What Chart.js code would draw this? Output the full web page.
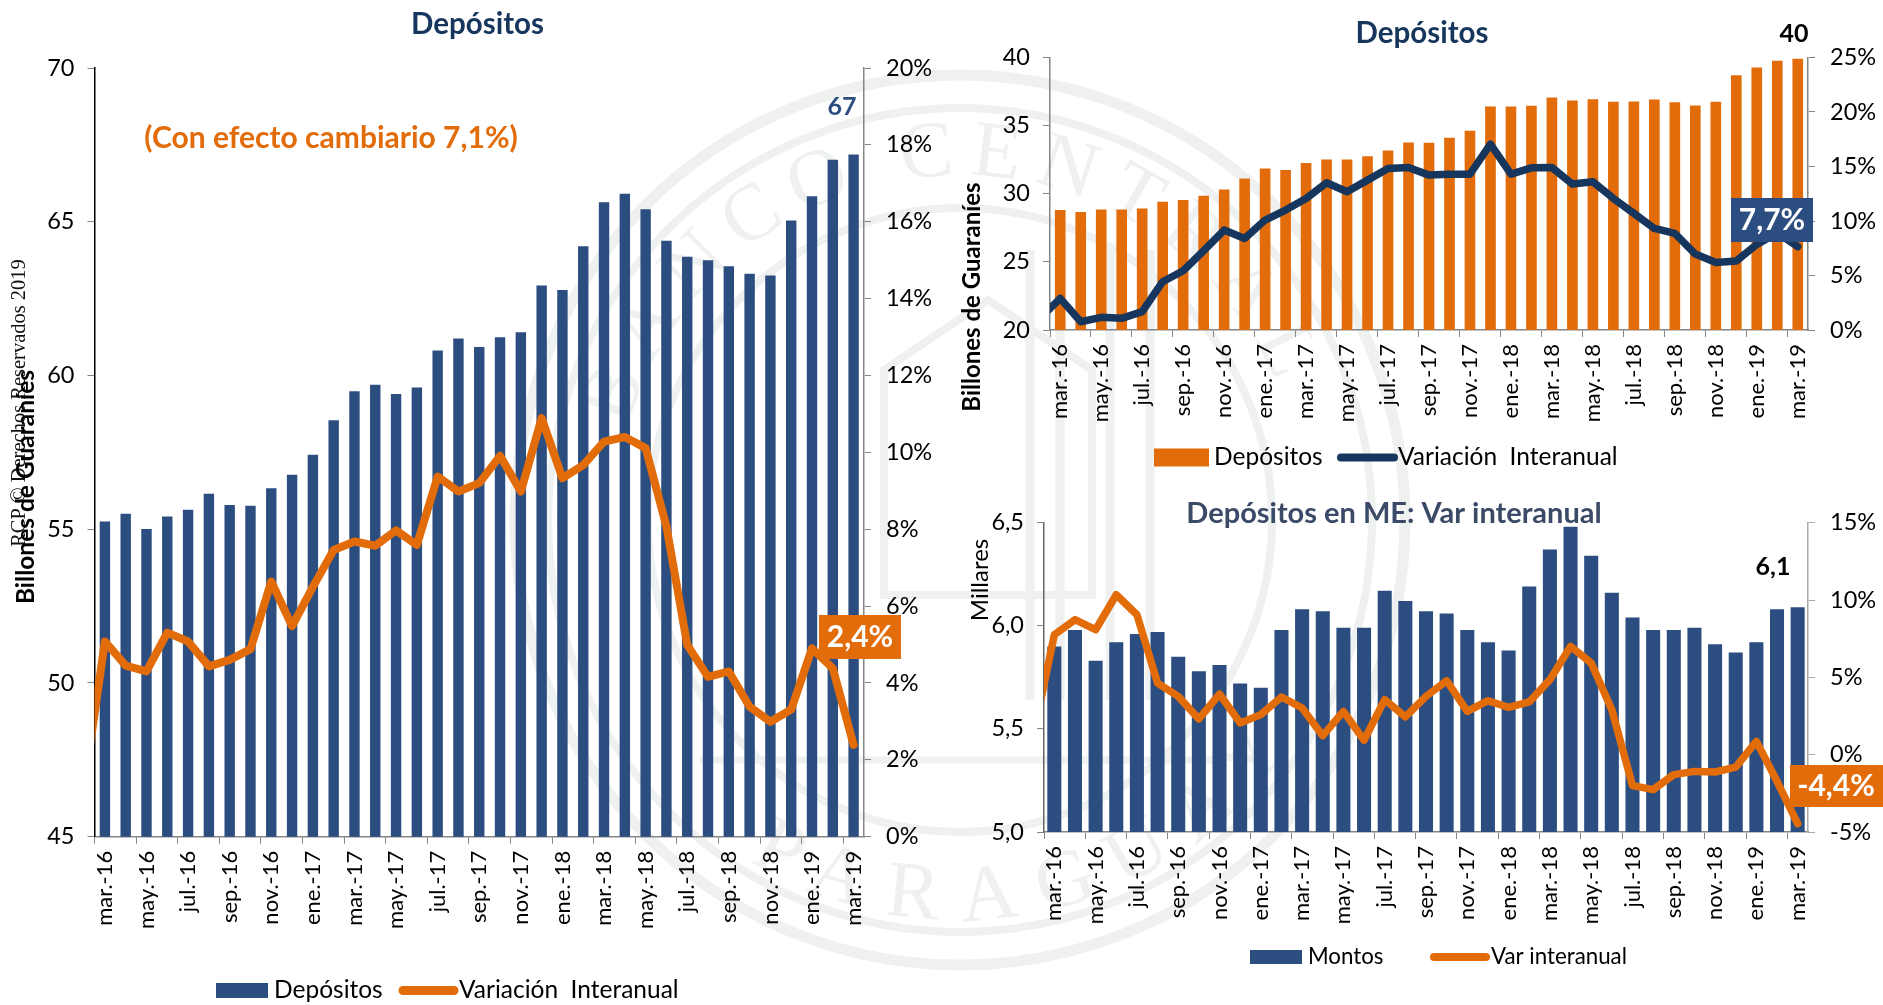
<!DOCTYPE html>
<html lang="es">
<head>
<meta charset="utf-8">
<title>Depósitos</title>
<script src="https://cdn.jsdelivr.net/npm/chart.js@4/dist/chart.umd.min.js"></script>
<style>
  html, body { margin: 0; padding: 0; background: #fff; width: 1883px; height: 1005px; overflow: hidden; }
  canvas, svg { position: absolute; }
  #seal { left: 0; top: 0; }
  #depositosTotal { left: 0; top: 0; }
  #depositosMN { left: 961px; top: 0; }
  #depositosME { left: 905px; top: 480px; }
</style>
</head>
<body>

<!-- Sello de fondo -->
<svg id="seal" width="1883" height="1005" viewBox="0 0 1883 1005" fill="none" stroke="#eef1ef">
  <defs>
    <path id="arcTop" d="M 615 520 A 345 345 0 0 1 1305 520"/>
    <path id="arcBottom" d="M 560 520 A 400 400 0 0 0 1360 520"/>
  </defs>
  <circle cx="960" cy="520" r="445" stroke-width="11"/>
  <circle cx="960" cy="520" r="412" stroke-width="8"/>
  <circle cx="960" cy="520" r="312" stroke-width="8"/>
  <path d="M 884 595 V 370 L 988 300 L 1092 370 V 595 Z" stroke-width="8"/>
  <path d="M 1030 700 V 250 M 1060 700 V 250 M 1110 700 V 250 M 1150 700 V 250" stroke-width="9"/>
  <path d="M 700 760 L 1220 760" stroke-width="7"/>
  <g fill="#eef1ef" stroke="none" font-family="'Liberation Serif', serif" font-size="80">
    <text letter-spacing="15"><textPath href="#arcTop" startOffset="93">BANCO CENTRAL</textPath></text>
    <text letter-spacing="25"><textPath href="#arcBottom" startOffset="407">PARAGUAY</textPath></text>
  </g>
</svg>

<canvas id="depositosTotal" width="955" height="1005"></canvas>
<canvas id="depositosMN" width="922" height="480"></canvas>
<canvas id="depositosME" width="978" height="525"></canvas>

<script>
// Etiquetas: feb.-16 queda fuera del eje, solo da el tramo inicial de la línea
const months = [
  'feb.-16',
  'mar.-16', 'abr.-16', 'may.-16', 'jun.-16', 'jul.-16', 'ago.-16', 'sep.-16', 'oct.-16', 'nov.-16', 'dic.-16',
  'ene.-17', 'feb.-17', 'mar.-17', 'abr.-17', 'may.-17', 'jun.-17', 'jul.-17', 'ago.-17', 'sep.-17', 'oct.-17', 'nov.-17', 'dic.-17',
  'ene.-18', 'feb.-18', 'mar.-18', 'abr.-18', 'may.-18', 'jun.-18', 'jul.-18', 'ago.-18', 'sep.-18', 'oct.-18', 'nov.-18', 'dic.-18',
  'ene.-19', 'feb.-19', 'mar.-19'
];

// Panel izquierdo
const totalMontos = [null,
  55.25, 55.50, 55.01, 55.41, 55.63, 56.15, 55.79, 55.76, 56.33, 56.77,
  57.42, 58.54, 59.49, 59.70, 59.40, 59.61, 60.81, 61.20, 60.93, 61.24, 61.41, 62.93,
  62.78, 64.20, 65.63, 65.91, 65.41, 64.38, 63.86, 63.75, 63.55, 63.31, 63.25, 65.04,
  65.83, 67.02, 67.19
];
const totalVariacion = [1.3,
  5.08, 4.45, 4.30, 5.31, 5.08, 4.43, 4.60, 4.88, 6.64, 5.48,
  6.50, 7.46, 7.68, 7.57, 7.97, 7.59, 9.37, 8.98, 9.20, 9.91, 8.98, 10.89,
  9.33, 9.67, 10.28, 10.40, 10.11, 8.07, 4.99, 4.16, 4.30, 3.38, 2.99, 3.31,
  4.90, 4.38, 2.39
];

// Panel superior derecho
const mnMontos = [null,
  28.80, 28.66, 28.85, 28.85, 28.92, 29.41, 29.54, 29.85, 30.32, 31.12,
  31.86, 31.74, 32.25, 32.52, 32.52, 32.76, 33.18, 33.77, 33.74, 34.11, 34.62, 36.41,
  36.41, 36.46, 37.07, 36.85, 36.94, 36.75, 36.77, 36.92, 36.72, 36.48, 36.75, 38.70,
  39.27, 39.76, 39.90
];
const mnVariacion = [1.04,
  2.90, 0.76, 1.16, 1.07, 1.68, 4.43, 5.44, 7.27, 9.17, 8.40,
  10.09, 11.00, 12.07, 13.51, 12.68, 13.75, 14.82, 14.91, 14.21, 14.30, 14.30, 17.05,
  14.30, 14.88, 14.91, 13.39, 13.60, 12.07, 10.70, 9.32, 8.86, 6.97, 6.20, 6.33,
  7.85, 8.90, 7.64
];

// Panel inferior derecho
const meMontos = [null,
  5.90, 5.98, 5.83, 5.92, 5.96, 5.97, 5.85, 5.78, 5.81, 5.72,
  5.70, 5.98, 6.08, 6.07, 5.99, 5.99, 6.17, 6.12, 6.07, 6.06, 5.98, 5.92,
  5.88, 6.19, 6.37, 6.48, 6.34, 6.16, 6.04, 5.98, 5.98, 5.99, 5.91, 5.87,
  5.92, 6.08, 6.09
];
const meVariacion = [1.29,
  7.76, 8.73, 8.08, 10.34, 9.05, 4.63, 3.77, 2.31, 3.92, 2.05,
  2.59, 3.73, 3.02, 1.23, 2.80, 0.93, 3.56, 2.44, 3.77, 4.78, 2.80, 3.49,
  3.06, 3.41, 4.85, 7.00, 5.93, 2.91, -2.00, -2.26, -1.29, -1.08, -1.12, -0.80,
  0.86, -1.72, -4.46
];

const BLUE = '#2c4d80';
const ORANGE = '#e36c0a';
const NAVY = '#17365d';
const AXIS_GREY = '#858585';
const FONT = 'Lato, sans-serif';

// ─────────────────────────────────────────────
// Textos sueltos y leyendas (coordenadas de página)
// ─────────────────────────────────────────────
const overlays = {
  depositosTotal: {
    left: 0, top: 0, legendFont: 24.5,
    legend: [
      { dataset: 0, x0: 216, x1: 268, y: 990.5, h: 15, textX: 274 },
      { dataset: 1, x0: 403, x1: 454, y: 990.5, w: 9, textX: 459 },
    ],
    notes: [
      { text: '(Con efecto cambiario 7,1%)', x: 331, y: 138, font: `bold 30px ${FONT}`, color: ORANGE },
      { text: '67', x: 842, y: 107, font: `bold 25px ${FONT}`, color: BLUE },
      { text: '2,4%', x: 860, y: 637, font: `bold 30px ${FONT}`, color: '#fff', box: [819, 615, 82, 44], boxColor: ORANGE },
      { text: 'RCP © Derechos Reservados 2019', x: 20, y: 403, font: `20.5px 'Liberation Serif', serif`, color: '#111', rotate: true },
      { text: 'Billones de Guaraníes', x: 26, y: 487, font: `bold 24.5px ${FONT}`, color: '#000', rotate: true },
    ],
  },
  depositosMN: {
    left: 961, top: 0, legendFont: 24.5,
    legend: [
      { dataset: 0, x0: 1154, x1: 1209, y: 457.5, h: 18, textX: 1214 },
      { dataset: 1, x0: 1341, x1: 1394, y: 457.5, w: 8, textX: 1398 },
    ],
    notes: [
      { text: '40', x: 1794, y: 34, font: `bold 25px ${FONT}`, color: '#000' },
      { text: '7,7%', x: 1772, y: 220, font: `bold 30px ${FONT}`, color: '#fff', box: [1731, 198, 82, 44], boxColor: BLUE },
      { text: 'Billones de Guaraníes', x: 972, y: 297, font: `bold 24px ${FONT}`, color: '#000', rotate: true },
    ],
  },
  depositosME: {
    left: 905, top: 480, legendFont: 22.3,
    legend: [
      { dataset: 0, x0: 1250, x1: 1302, y: 957, h: 14, textX: 1308 },
      { dataset: 1, x0: 1434, x1: 1486, y: 957, w: 8, textX: 1491 },
    ],
    notes: [
      { text: '6,1', x: 1773, y: 567, font: `bold 25px ${FONT}`, color: '#000' },
      { text: '-4,4%', x: 1836, y: 786, font: `bold 30px ${FONT}`, color: '#fff', box: [1790, 765, 93, 42], boxColor: ORANGE },
      { text: 'Millares', x: 980, y: 580, font: `24px ${FONT}`, color: '#000', rotate: true },
    ],
  },
};

const overlayPlugin = {
  id: 'overlay',
  afterDraw(chart) {
    const cfg = overlays[chart.canvas.id];
    const ctx = chart.ctx;
    ctx.save();
    ctx.translate(-cfg.left, -cfg.top);
    ctx.textBaseline = 'middle';

    cfg.legend.forEach(item => {
      const ds = chart.data.datasets[item.dataset];
      if (ds.type === 'bar') {
        ctx.fillStyle = ds.backgroundColor;
        ctx.fillRect(item.x0, item.y - item.h / 2, item.x1 - item.x0, item.h);
      } else {
        ctx.strokeStyle = ds.borderColor;
        ctx.lineWidth = item.w;
        ctx.lineCap = 'round';
        ctx.beginPath();
        ctx.moveTo(item.x0, item.y);
        ctx.lineTo(item.x1, item.y);
        ctx.stroke();
      }
      ctx.fillStyle = '#000';
      ctx.font = `${cfg.legendFont}px ${FONT}`;
      ctx.textAlign = 'left';
      ctx.fillText(ds.label, item.textX, item.y);
    });

    cfg.notes.forEach(note => {
      if (note.box) {
        ctx.fillStyle = note.boxColor;
        ctx.fillRect(note.box[0], note.box[1], note.box[2], note.box[3]);
      }
      ctx.save();
      ctx.translate(note.x, note.y);
      if (note.rotate) ctx.rotate(-Math.PI / 2);
      ctx.font = note.font;
      ctx.fillStyle = note.color;
      ctx.textAlign = 'center';
      ctx.fillText(note.text, 0, 0);
      ctx.restore();
    });
    ctx.restore();
  }
};

// ─────────────────────────────────────────────
// Construcción de cada panel
// ─────────────────────────────────────────────
function fixedSize(prop, size) {
  return scale => { scale[prop] = size; };
}

function buildChart(id, p) {
  return new Chart(document.getElementById(id), {
    type: 'bar',
    plugins: [overlayPlugin],
    data: {
      labels: months,
      datasets: [
        {
          type: 'bar',
          label: p.barLabel,
          data: p.barData,
          yAxisID: 'y',
          order: 1,
          backgroundColor: p.barColor,
          barPercentage: p.barPct,
          categoryPercentage: 1,
        },
        {
          type: 'line',
          label: p.lineLabel,
          data: p.lineData,
          yAxisID: 'y2',
          order: 0,
          borderColor: p.lineColor,
          borderWidth: p.lineWidth,
          borderCapStyle: 'round',
          borderJoinStyle: 'round',
          pointRadius: 0,
          tension: 0,
          clip: 0,
        },
      ],
    },
    options: {
      responsive: false,
      animation: false,
      layout: { padding: 0 },
      plugins: {
        legend: { display: false },
        tooltip: { enabled: false },
        title: {
          display: true,
          text: p.title,
          color: p.titleColor,
          font: { family: FONT, size: p.titleSize, weight: 'bold', lineHeight: 1.2 },
          padding: p.titlePadding,
        },
      },
      scales: {
        x: {
          type: 'category',
          min: 'mar.-16',
          offset: true,
          grid: {
            offset: true,
            drawOnChartArea: false,
            tickLength: 7,
            tickColor: ctx => (ctx.index % 2 === 0 ? AXIS_GREY : 'transparent'),
          },
          border: { color: AXIS_GREY, width: 1.5 },
          ticks: {
            autoSkip: false,
            maxRotation: 90,
            minRotation: 90,
            padding: 7,
            color: '#000',
            font: { family: FONT, size: 22 },
            callback(value, index) { return index % 2 === 0 ? this.getLabelForValue(value) : ''; },
          },
          afterFit: fixedSize('height', p.xHeight),
        },
        y: {
          position: 'left',
          min: p.yMin,
          max: p.yMax,
          grid: { drawOnChartArea: false, tickLength: 7, tickColor: AXIS_GREY },
          border: { color: p.leftAxisColor, width: 1.5 },
          ticks: {
            stepSize: p.yStep,
            padding: 13,
            color: '#000',
            font: { family: FONT, size: 23.5 },
            callback: p.yFormat,
          },
          afterFit: fixedSize('width', p.leftWidth),
        },
        y2: {
          position: 'right',
          min: p.y2Min,
          max: p.y2Max,
          grid: { drawOnChartArea: false, tickLength: 7, tickColor: p.rightAxisColor },
          border: { color: p.rightAxisColor, width: 1.5 },
          ticks: {
            stepSize: p.y2Step,
            padding: 15,
            color: '#000',
            font: { family: FONT, size: 23.5 },
            callback: v => `${v}%`,
          },
          afterFit: fixedSize('width', p.rightWidth),
        },
      },
    },
  });
}

buildChart('depositosTotal', {
  title: 'Depósitos', titleColor: NAVY, titleSize: 29.5, titlePadding: { top: 6.3, bottom: 26.3 },
  barLabel: 'Depósitos', barData: totalMontos, barColor: BLUE, barPct: 0.5,
  lineLabel: 'Variación  Interanual', lineData: totalVariacion, lineColor: ORANGE, lineWidth: 8,
  yMin: 45, yMax: 70, yStep: 5, yFormat: v => v,
  y2Min: 0, y2Max: 20, y2Step: 2,
  leftWidth: 94.5, rightWidth: 91, xHeight: 168.3,
  leftAxisColor: '#000', rightAxisColor: AXIS_GREY,
});

buildChart('depositosMN', {
  title: 'Depósitos', titleColor: NAVY, titleSize: 29.5, titlePadding: { top: 15.3, bottom: 6.8 },
  barLabel: 'Depósitos', barData: mnMontos, barColor: ORANGE, barPct: 0.52,
  lineLabel: 'Variación  Interanual', lineData: mnVariacion, lineColor: NAVY, lineWidth: 7.5,
  yMin: 20, yMax: 40, yStep: 5, yFormat: v => v,
  y2Min: 0, y2Max: 25, y2Step: 5,
  leftWidth: 89, rightWidth: 75, xHeight: 150,
  leftAxisColor: AXIS_GREY, rightAxisColor: AXIS_GREY,
});

buildChart('depositosME', {
  title: 'Depósitos en ME: Var interanual', titleColor: '#3b4a66', titleSize: 29, titlePadding: { top: 16.6, bottom: -8.7 },
  barLabel: 'Montos', barData: meMontos, barColor: BLUE, barPct: 0.68,
  lineLabel: 'Var interanual', lineData: meVariacion, lineColor: ORANGE, lineWidth: 7.5,
  yMin: 5, yMax: 6.5, yStep: 0.5, yFormat: v => v.toFixed(1).replace('.', ','),
  y2Min: -5, y2Max: 15, y2Step: 5,
  leftWidth: 139, rightWidth: 75, xHeight: 173,
  leftAxisColor: '#666', rightAxisColor: '#aaa',
});
</script>
</body>
</html>
